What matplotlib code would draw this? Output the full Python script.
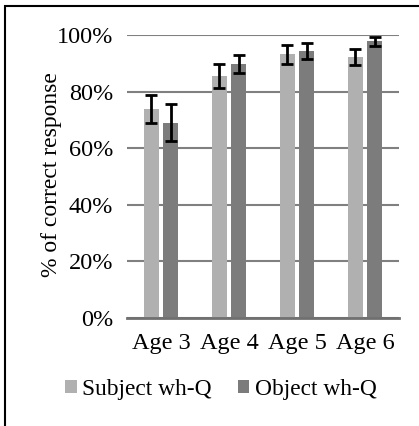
import matplotlib
matplotlib.use("Agg")
import matplotlib.pyplot as plt
import numpy as np
from matplotlib.patches import Rectangle

# data
ages = ["Age 3", "Age 4", "Age 5", "Age 6"]
subject_vals = [73.7, 85.4, 93.2, 92.2]
subject_err = [4.9, 4.3, 3.4, 2.8]
object_vals = [69.0, 89.8, 94.2, 97.8]
object_err = [6.6, 3.2, 2.8, 1.6]
series_names = ["Subject wh-Q", "Object wh-Q"]

plt.rcParams['font.family'] = ['Liberation Serif', 'DejaVu Serif']
FS = 17.5

W, H = 419, 426
fig = plt.figure(figsize=(W / 100, H / 100), dpi=100)

# plot area in pixels: x 127..399, y(0%)=317.7, y(100%)=35
ax = fig.add_axes([127 / W, 1 - 317.7 / H, (399 - 127) / W, (317.7 - 35) / H])

x = np.arange(len(ages))
width = 0.225
offset = 0.14
err_kw = dict(ecolor='black', elinewidth=2, capsize=4, capthick=2)
ax.bar(x - offset, subject_vals, width, yerr=subject_err, color='#b0b0b0',
       label=series_names[0], error_kw=err_kw, zorder=3)
ax.bar(x + offset, object_vals, width, yerr=object_err, color='#7c7c7c',
       label=series_names[1], error_kw=err_kw, zorder=3)

ax.set_xlim(-0.5, len(ages) - 0.5)
ax.set_ylim(0, 100)
ax.set_yticks(range(0, 101, 20))
ax.set_yticklabels([f"{v}%" for v in range(0, 101, 20)])
ax.set_xticks(x)
ax.set_xticklabels(ages)
ax.tick_params(axis='both', length=0, labelsize=FS)
ax.tick_params(axis='y', pad=10)
ax.tick_params(axis='x', pad=11)

ax.yaxis.grid(True, color='#808080', linewidth=1.5, zorder=0)
ax.set_axisbelow(True)
for side in ['top', 'right', 'left']:
    ax.spines[side].set_visible(False)
ax.spines['bottom'].set_color('#707070')
ax.spines['bottom'].set_linewidth(2)
ax.spines['bottom'].set_zorder(4)

fig.text(52 / W, 1 - 175 / H, "% of correct response", rotation=90,
         ha='center', va='center', fontsize=17)

fig.legend(loc='center', bbox_to_anchor=(221 / W, 1 - 389 / H), ncol=2,
           frameon=False, fontsize=16.8, handlelength=0.5, handleheight=0.5,
           handletextpad=0.25, columnspacing=1.1)

# outer frame (only left and top edges are visible in the crop)
fig.patches.append(Rectangle((4.5 / W, -0.1), 1.2, 1.1 - 6 / H,
                             transform=fig.transFigure, fill=False,
                             edgecolor='black', linewidth=1.5))

fig.savefig("out.png", dpi=100)
